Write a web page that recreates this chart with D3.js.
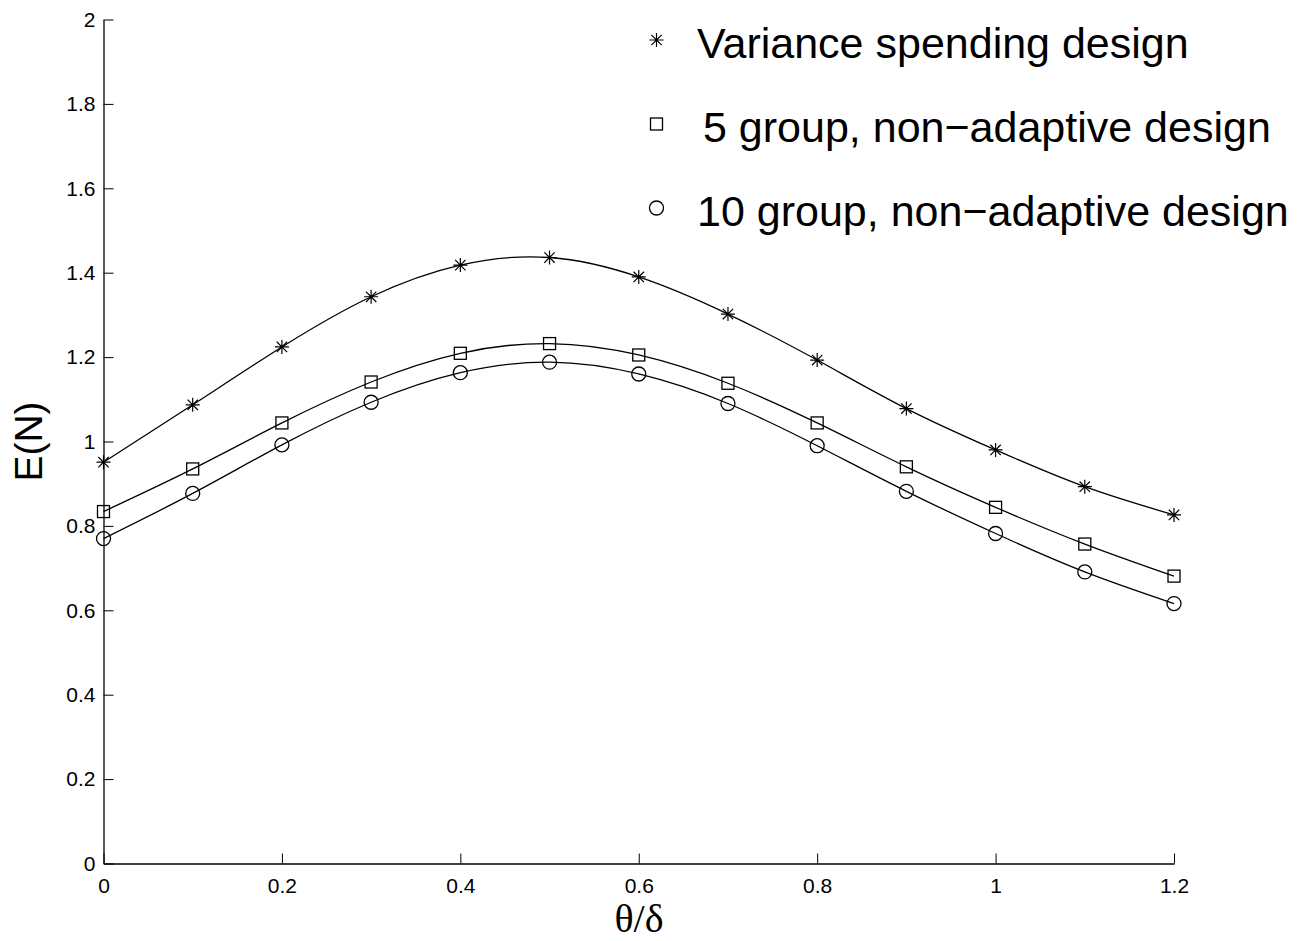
<!DOCTYPE html>
<html>
<head>
<meta charset="utf-8">
<script src="https://cdn.jsdelivr.net/npm/d3@7"></script>
<style>
  html, body { margin: 0; padding: 0; background: #fff; }
  svg { display: block; }
  text { font-family: "Liberation Sans", Arial, Helvetica, sans-serif; fill: #000; }
</style>
</head>
<body>
<svg id="chart" width="1314" height="941"></svg>
<script>
// ---- data ----
const thetaValues = [0, 0.1, 0.2, 0.3, 0.4, 0.5, 0.6, 0.7, 0.8, 0.9, 1.0, 1.1, 1.2];
const varianceSpending = [0.951, 1.087, 1.224, 1.343, 1.418, 1.436, 1.390, 1.302, 1.193, 1.078, 0.980, 0.893, 0.826];
const fiveGroup = [0.834, 0.935, 1.044, 1.141, 1.209, 1.232, 1.205, 1.138, 1.044, 0.940, 0.844, 0.757, 0.681];
const tenGroup = [0.770, 0.877, 0.992, 1.093, 1.163, 1.188, 1.160, 1.090, 0.990, 0.882, 0.782, 0.691, 0.616];
const seriesNames = ["Variance spending design", "5 group, non\u2212adaptive design", "10 group, non\u2212adaptive design"];
const seriesMarkers = ["star", "square", "circle"];
const xTicks = [0, 0.2, 0.4, 0.6, 0.8, 1, 1.2];
const yTicks = [0, 0.2, 0.4, 0.6, 0.8, 1, 1.2, 1.4, 1.6, 1.8, 2];
const xLabel = "\u03B8/\u03B4";
const yLabel = "E(N)";

const series = [varianceSpending, fiveGroup, tenGroup].map((vals, i) => ({
  name: seriesNames[i], marker: seriesMarkers[i],
  points: thetaValues.map((t, j) => ({ x: t, y: vals[j] }))
}));

// ---- layout ----
const svg = d3.select("#chart");
const mLeft = 103.5, mRight = 1174, mTop = 19.5, mBottom = 863.5;
const x = d3.scaleLinear().domain([0, 1.2]).range([mLeft, mRight]);
const y = d3.scaleLinear().domain([0, 2]).range([mBottom, mTop]);

// axes (ticks point inward)
const xAxis = d3.axisBottom(x).tickValues(xTicks).tickSizeInner(-10).tickSizeOuter(0)
  .tickFormat(d => d3.format("")(d));
const yAxis = d3.axisLeft(y).tickValues(yTicks).tickSizeInner(-10).tickSizeOuter(0)
  .tickFormat(d => d3.format("")(d));

const gx = svg.append("g").attr("transform", `translate(0,${mBottom})`).call(xAxis);
const gy = svg.append("g").attr("transform", `translate(${mLeft},0)`).call(yAxis);
[gx, gy].forEach(g => {
  g.select(".domain").attr("stroke", "#000").attr("stroke-width", 1.3);
  g.selectAll(".tick line").attr("stroke", "#000").attr("stroke-width", 1);
  g.selectAll(".tick text").attr("font-size", 21).attr("font-family", '"Liberation Sans", Arial, sans-serif').attr("fill", "#000");
});
gx.selectAll(".tick text").attr("dy", "0.71em").attr("y", 14.5);
gy.selectAll(".tick text").attr("x", -8);

// axis labels
svg.append("text").attr("x", 639).attr("y", 932).attr("text-anchor", "middle")
  .attr("font-size", 40).style("font-family", '"Liberation Serif", "Times New Roman", serif')
  .text(xLabel);
svg.append("text").attr("transform", "translate(42,441.5) rotate(-90)").attr("text-anchor", "middle")
  .attr("font-size", 39).text(yLabel);

// lines
const line = d3.line().x(d => x(d.x)).y(d => y(d.y)).curve(d3.curveNatural);
svg.append("g").selectAll("path.series").data(series).join("path")
  .attr("class", "series").attr("d", d => line(d.points))
  .attr("fill", "none").attr("stroke", "#000").attr("stroke-width", 1.3);

// markers
function drawMarker(g, type, cx, cy) {
  if (type === "star") {
    const r = 7, r2 = 5.2;
    g.append("path").attr("d",
      `M${cx - r},${cy}L${cx + r},${cy}M${cx},${cy - r}L${cx},${cy + r}` +
      `M${cx - r2},${cy - r2}L${cx + r2},${cy + r2}M${cx - r2},${cy + r2}L${cx + r2},${cy - r2}`)
      .attr("stroke", "#000").attr("stroke-width", 1.2).attr("fill", "none");
  } else if (type === "square") {
    g.append("rect").attr("x", cx - 6).attr("y", cy - 6).attr("width", 12).attr("height", 12)
      .attr("fill", "none").attr("stroke", "#000").attr("stroke-width", 1.3);
  } else {
    g.append("circle").attr("cx", cx).attr("cy", cy).attr("r", 7)
      .attr("fill", "none").attr("stroke", "#000").attr("stroke-width", 1.3);
  }
}
const mg = svg.append("g");
series.forEach(s => s.points.forEach(p => drawMarker(mg, s.marker, x(p.x), y(p.y))));

// legend
const legendBase = [58, 142, 226];
const legendTextX = [697, 703, 697];
const lg = svg.append("g");
series.forEach((s, i) => {
  drawMarker(lg, s.marker, 656.5, legendBase[i] - 18);
  lg.append("text").attr("x", legendTextX[i]).attr("y", legendBase[i])
    .attr("font-size", 43).text(s.name);
});
</script>
</body>
</html>
